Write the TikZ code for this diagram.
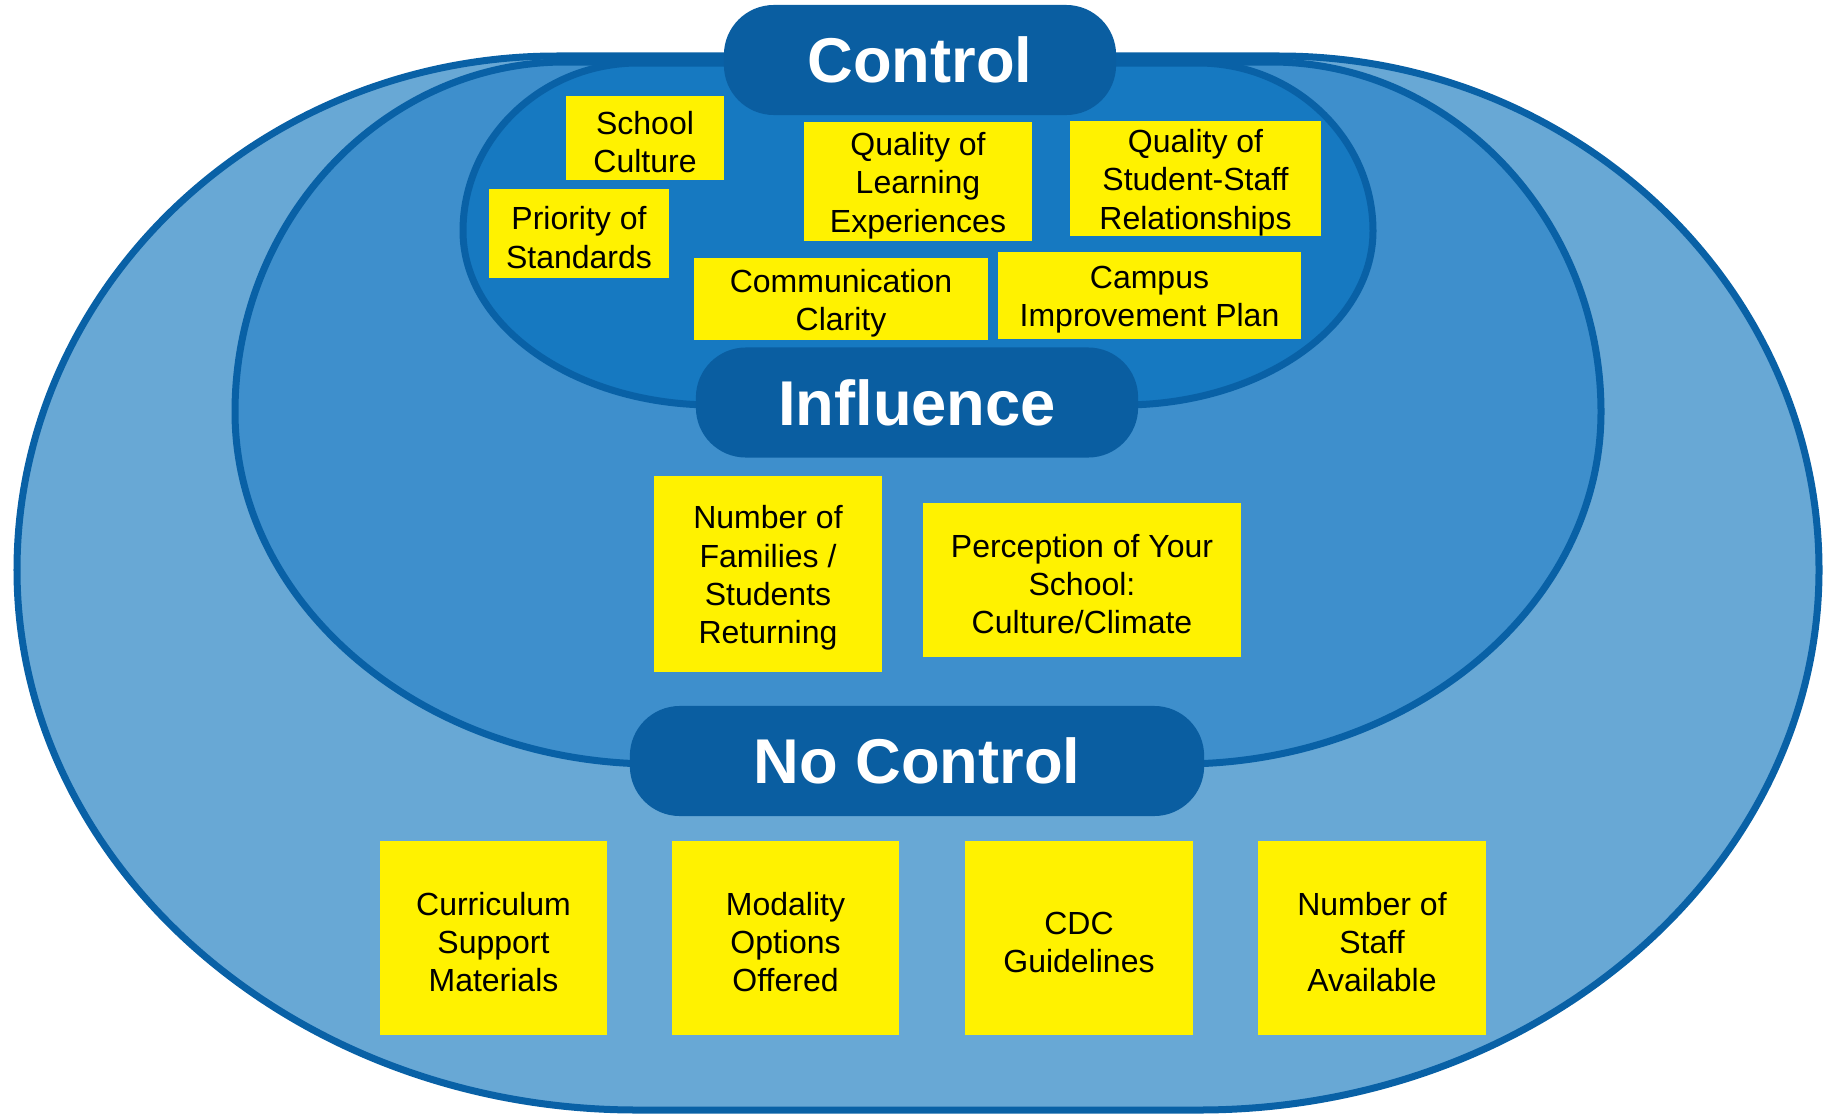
\documentclass[tikz,border=0pt]{standalone}
\usepackage{fontspec}
\setmainfont{Liberation Sans}
\usepackage{xcolor}
\usetikzlibrary{positioning}
\definecolor{nozone}{RGB}{104,168,213}
\definecolor{inzone}{RGB}{62,143,204}
\definecolor{ctzone}{RGB}{22,121,193}
\definecolor{pillblue}{RGB}{10,94,161}
\definecolor{rim}{RGB}{9,97,166}

\begin{document}
\begin{tikzpicture}[x=0.01cm, y=-0.01cm]
  \def\rnd{0.55}
  \def\lift{\rule{0pt}{8.9pt}}
  % left, right, top, widest row, bottom, corner width top, corner width bottom
  \def\zone#1#2#3#4#5#6#7{%
    (#1,#4) .. controls (#1,{#4-\rnd*(#4-#3)}) and ({#1+(1-\rnd)*#6},#3) .. ({#1+#6},#3)
    -- ({#2-#6},#3) .. controls ({#2-(1-\rnd)*#6},#3) and (#2,{#4-\rnd*(#4-#3)}) .. (#2,#4)
    .. controls (#2,{#4+\rnd*(#5-#4)}) and ({#2-(1-\rnd)*#7},#5) .. ({#2-#7},#5)
    -- ({#1+#7},#5) .. controls ({#1+(1-\rnd)*#7},#5) and (#1,{#4+\rnd*(#5-#4)}) .. (#1,#4) -- cycle}
  \tikzset{
    zone/.style={draw=rim, line width=0.7mm},
    pill/.style={fill=pillblue, rounded corners=5mm, text=white, inner sep=0pt,
      minimum height=1.1cm, font=\fontsize{18pt}{20pt}\selectfont\bfseries},
    card/.style={fill=yellow, inner sep=0pt, align=center,
      font=\fontsize{9.1pt}{10.9pt}\selectfont},
  }
  \useasboundingbox (0,0) rectangle (1824,1115);

  %% ===== Nested zones =====
  \draw[zone, fill=nozone] \zone{17}{1819}{56}{570}{1110}{540}{620};
  \draw[zone, fill=inzone] \zone{235}{1601}{62}{412}{764}{330}{420};
  \draw[zone, fill=ctzone] \zone{463}{1373}{63}{231}{405}{175}{250};

  %% ===== Zone titles =====
  \node[pill, minimum width=3.92cm] (control)   at (920,60)    {Control};
  \node[pill, minimum width=4.42cm] (influence) at (917,402.5) {Influence};
  \node[pill, minimum width=5.74cm] (nocontrol) at (917,761)   {No Control};

  %% ===== Control =====
  \node[card, minimum width=1.57cm, minimum height=0.84cm] (school)   at (645,138)      {\lift School\\Culture};
  \node[card, minimum width=1.80cm, minimum height=0.89cm] (priority) at (579,233.5)    {\lift Priority of\\Standards};
  \node[card, minimum width=2.28cm, minimum height=1.19cm] (qlearn)   at (918,181.5)    {\lift Quality of\\Learning\\Experiences};
  \node[card, minimum width=2.51cm, minimum height=1.15cm] (qrel)     at (1195.5,178.5) {\lift Quality of\\Student-Staff\\Relationships};
  \node[card, minimum width=2.94cm, minimum height=0.82cm] (comm)     at (841,299)      {\lift Communication\\Clarity};
  \node[card, minimum width=3.03cm, minimum height=0.87cm] (campus)   at (1149.5,295.5) {\lift Campus\\Improvement Plan};

  %% ===== Influence =====
  \node[card, minimum width=2.28cm, minimum height=1.96cm] (families)   at (768,574)  {\lift Number of\\Families /\\Students\\Returning};
  \node[card, minimum width=3.18cm, minimum height=1.54cm] (perception) at (1082,580) {\lift Perception of Your\\School:\\Culture/Climate};

  %% ===== No control =====
  \node[card, minimum width=2.27cm, minimum height=1.94cm] (curriculum) at (493.5,938) {\lift Curriculum\\Support\\Materials};
  \node[card, minimum width=2.27cm, minimum height=1.94cm] (modality)   at (785.5,938) {\lift Modality\\Options\\Offered};
  \node[card, minimum width=2.27cm, minimum height=1.94cm] (cdc)        at (1079,938)  {\lift CDC\\Guidelines};
  \node[card, minimum width=2.28cm, minimum height=1.94cm] (staff)      at (1372,938)  {\lift Number of\\Staff\\Available};
\end{tikzpicture}
\end{document}
